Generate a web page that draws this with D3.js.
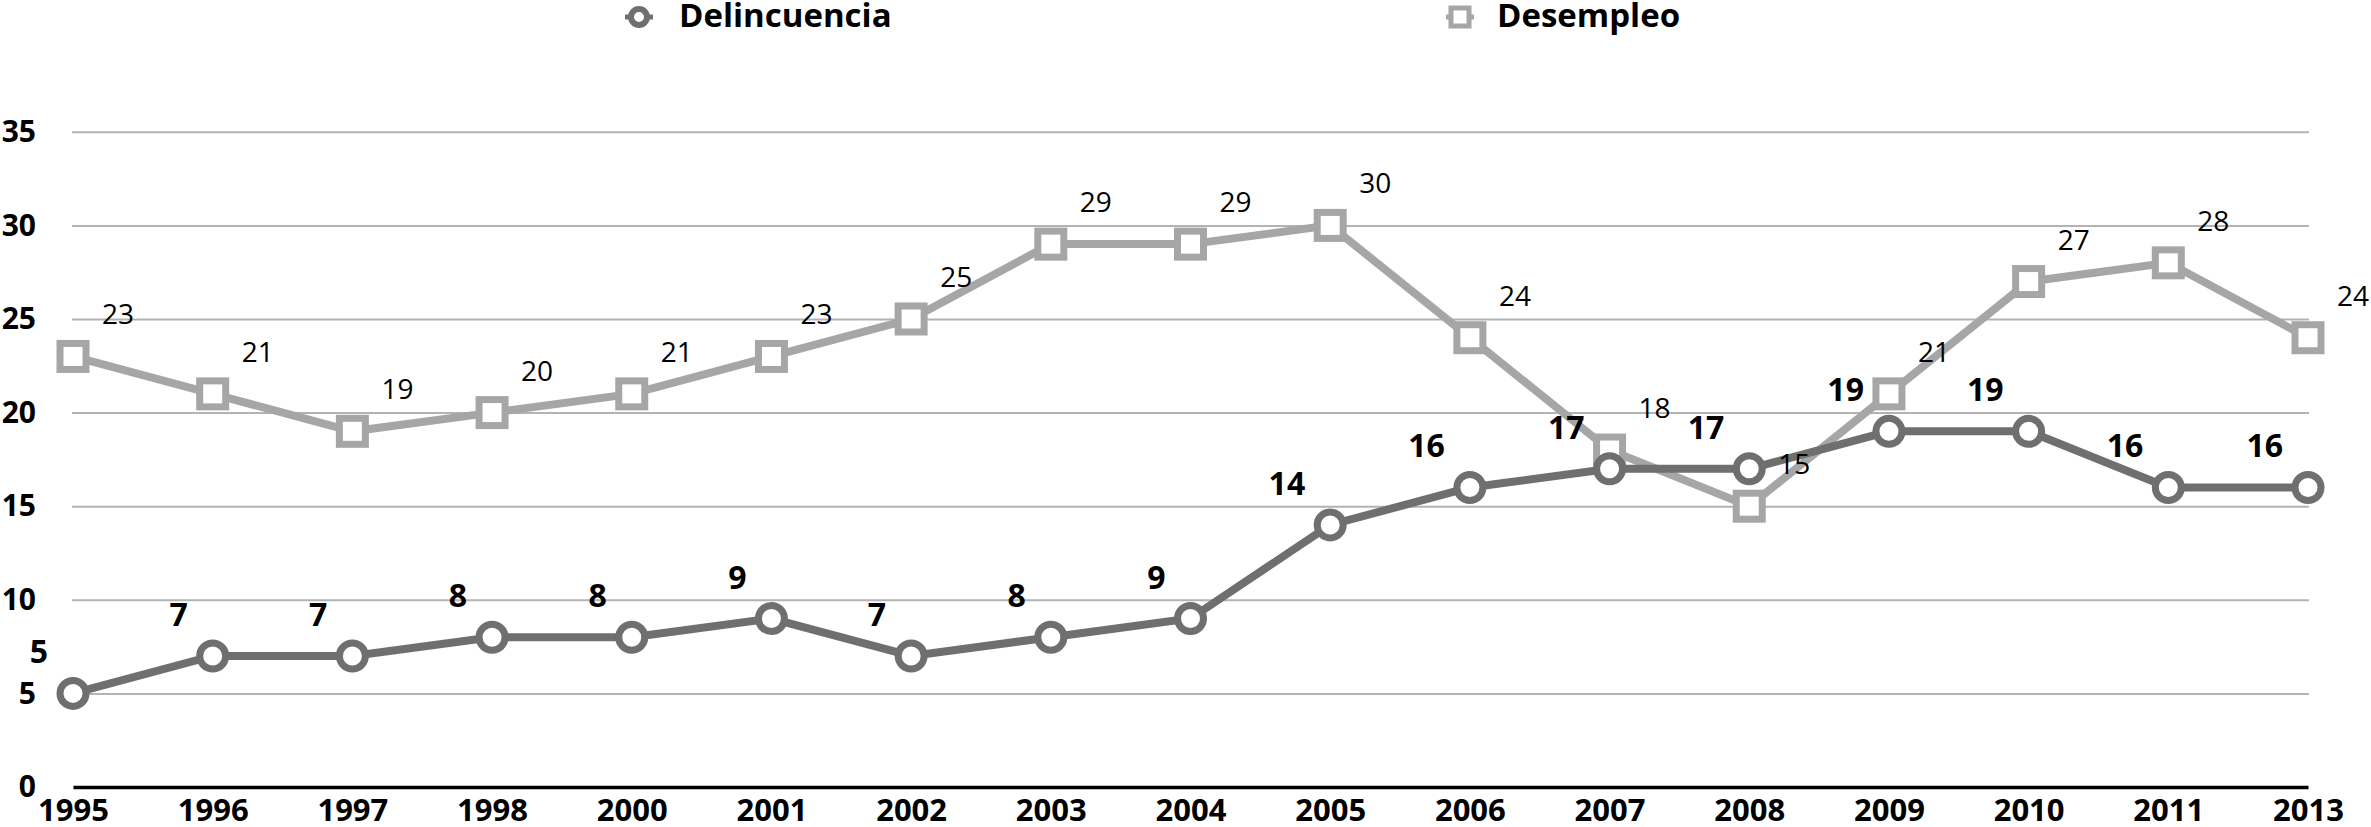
<!DOCTYPE html>
<html>
<head>
<meta charset="utf-8">
<script src="https://cdn.jsdelivr.net/npm/d3@7"></script>
<style>
  body { margin: 0; background: #fff; }
  text { font-family: "Open Sans", "Noto Sans", sans-serif; }
</style>
</head>
<body>
<div id="chart"></div>
<script>
const years = ["1995","1996","1997","1998","2000","2001","2002","2003","2004","2005","2006","2007","2008","2009","2010","2011","2013"];
const delincuencia = [5,7,7,8,8,9,7,8,9,14,16,17,17,19,19,16,16];
const desempleo = [23,21,19,20,21,23,25,29,29,30,24,18,15,21,27,28,24];
const yTicks = [0,5,10,15,20,25,30,35];

const width = 2371, height = 827;
const darkGrey = "#6e706e", lightGrey = "#a6a6a6";

const svg = d3.select("#chart").append("svg")
  .attr("width", width)
  .attr("height", height);

// scales
const x = d3.scalePoint().domain(years).range([73, 2308]);
const y = d3.scaleLinear().domain([0, 35]).range([787, 131.8]);

// gridlines
svg.append("g")
  .attr("transform", "translate(72,0)")
  .call(d3.axisLeft(y).tickValues(yTicks.filter(d => d > 0)).tickSize(-(2309 - 72)).tickFormat(""))
  .call(g => g.select(".domain").remove())
  .call(g => g.selectAll("line").attr("stroke", "#b3b3b3").attr("stroke-width", 2));

// y tick labels
svg.append("g")
  .attr("transform", "translate(72,0)")
  .call(d3.axisLeft(y).tickValues(yTicks).tickSize(0).tickPadding(36))
  .call(g => g.select(".domain").remove())
  .call(g => g.selectAll("text")
    .attr("font-family", "'Open Sans', sans-serif")
    .attr("font-size", 30).attr("font-weight", "bold").attr("fill", "#000"));

// x axis
svg.append("g")
  .attr("transform", "translate(0,787)")
  .call(d3.axisBottom(x).tickSize(0).tickPadding(12))
  .call(g => g.select(".domain").attr("stroke", "#000").attr("stroke-width", 3.5))
  .call(g => g.selectAll("text")
    .attr("font-family", "'Open Sans', sans-serif")
    .attr("font-size", 31).attr("font-weight", "bold").attr("fill", "#000"));

const line = d3.line().x(d => x(d.year)).y(d => y(d.v));
const desData = years.map((yr, i) => ({ year: yr, v: desempleo[i] }));
const delData = years.map((yr, i) => ({ year: yr, v: delincuencia[i] }));

// Desempleo series
svg.append("path")
  .datum(desData)
  .attr("fill", "none")
  .attr("stroke", lightGrey)
  .attr("stroke-width", 8)
  .attr("d", line);

svg.selectAll(".sq")
  .data(desData)
  .join("rect")
  .attr("class", "sq")
  .attr("x", d => x(d.year) - 13)
  .attr("y", d => y(d.v) - 13)
  .attr("width", 26)
  .attr("height", 26)
  .attr("fill", "#fff")
  .attr("stroke", lightGrey)
  .attr("stroke-width", 7);

// Delincuencia series
svg.append("path")
  .datum(delData)
  .attr("fill", "none")
  .attr("stroke", darkGrey)
  .attr("stroke-width", 8)
  .attr("d", line);

svg.selectAll(".dot")
  .data(delData)
  .join("circle")
  .attr("class", "dot")
  .attr("cx", d => x(d.year))
  .attr("cy", d => y(d.v))
  .attr("r", 13)
  .attr("fill", "#fff")
  .attr("stroke", darkGrey)
  .attr("stroke-width", 7);

// data labels
svg.selectAll(".lblDes")
  .data(desData)
  .join("text")
  .attr("class", "lblDes")
  .attr("x", d => x(d.year) + 29)
  .attr("y", d => y(d.v) - 32)
  .attr("font-size", 28)
  .attr("fill", "#000")
  .text(d => d.v);

svg.selectAll(".lblDel")
  .data(delData)
  .join("text")
  .attr("class", "lblDel")
  .attr("x", d => x(d.year) - 25)
  .attr("y", d => y(d.v) - 30)
  .attr("text-anchor", "end")
  .attr("font-size", 32)
  .attr("font-weight", "bold")
  .attr("fill", "#000")
  .text(d => d.v);

// legend
const leg1 = svg.append("g");
leg1.append("line").attr("x1", 625).attr("x2", 653).attr("y1", 17).attr("y2", 17)
  .attr("stroke", darkGrey).attr("stroke-width", 5);
leg1.append("circle").attr("cx", 639).attr("cy", 17).attr("r", 8)
  .attr("fill", "#fff").attr("stroke", darkGrey).attr("stroke-width", 6);
leg1.append("text").attr("x", 679).attr("y", 27)
  .attr("font-size", 33).attr("font-weight", "bold").text("Delincuencia");

const leg2 = svg.append("g");
leg2.append("line").attr("x1", 1446).attr("x2", 1474).attr("y1", 17).attr("y2", 17)
  .attr("stroke", lightGrey).attr("stroke-width", 5);
leg2.append("rect").attr("x", 1451).attr("y", 8).attr("width", 18).attr("height", 18)
  .attr("fill", "#fff").attr("stroke", lightGrey).attr("stroke-width", 5);
leg2.append("text").attr("x", 1497).attr("y", 27)
  .attr("font-size", 33).attr("font-weight", "bold").text("Desempleo");
</script>
</body>
</html>
